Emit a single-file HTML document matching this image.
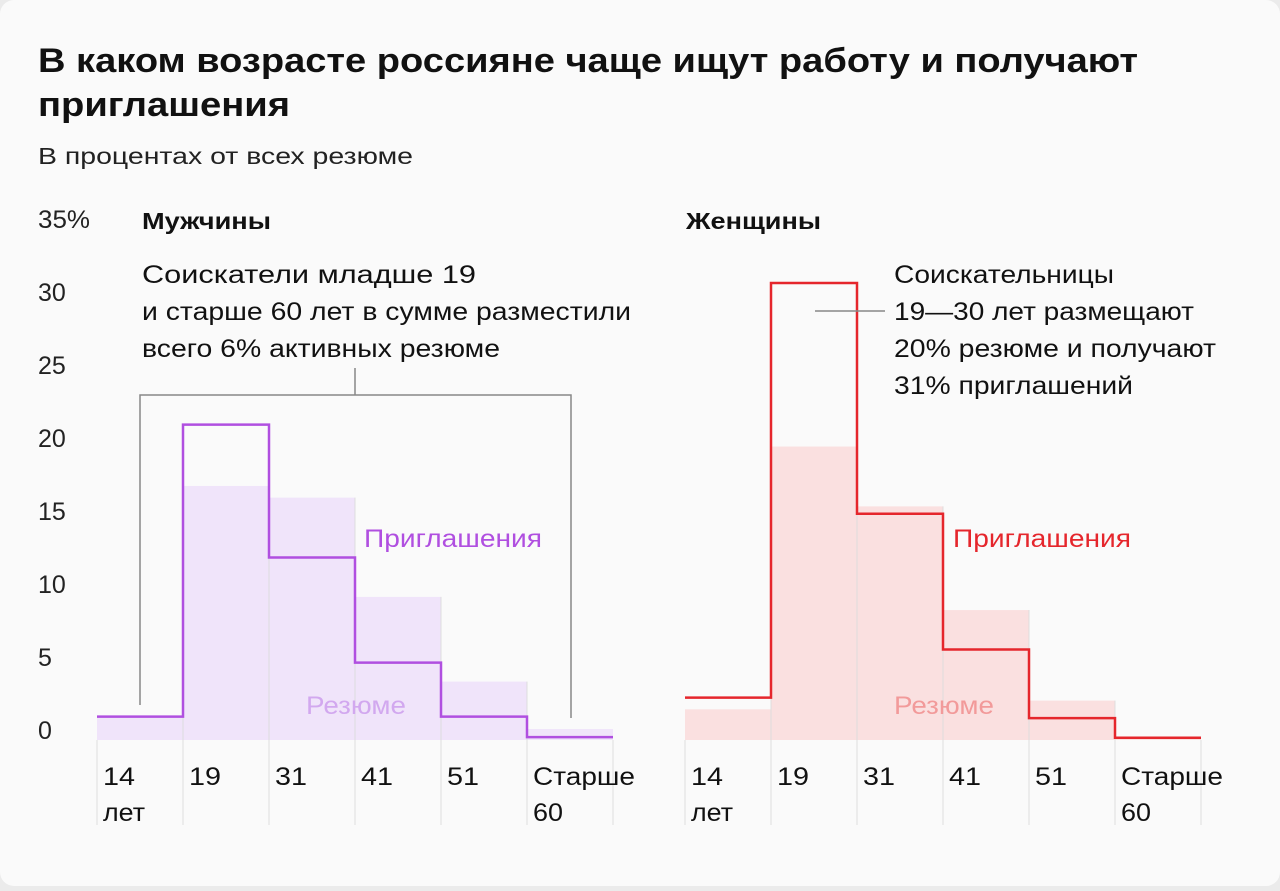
<!DOCTYPE html>
<html><head><meta charset="utf-8"><style>
body{margin:0;background:#ebebeb;font-family:"Liberation Sans",sans-serif;}
#card{position:absolute;left:0;top:0;width:1280px;height:886px;background:#fafafa;border-radius:14px;}
</style></head><body>
<div id="card">
<svg id="svg" width="1280" height="886" xmlns="http://www.w3.org/2000/svg" font-family="Liberation Sans, sans-serif">
<text x="38" y="72" font-size="34" font-weight="bold" fill="#111" textLength="1100" lengthAdjust="spacingAndGlyphs">В каком возрасте россияне чаще ищут работу и получают</text>
<text x="38" y="116" font-size="34" font-weight="bold" fill="#111" textLength="252" lengthAdjust="spacingAndGlyphs">приглашения</text>
<text x="38" y="164" font-size="23" fill="#222" textLength="375" lengthAdjust="spacingAndGlyphs">В процентах от всех резюме</text>
<g id="yaxis"></g>
<g id="men"></g>
<g id="women"></g>
</svg></div>
<script>
const categories=["14\nлет","19","31","41","51","Старше\n60"];
const yTicks=[0,5,10,15,20,25,30,35];
const menResume=[1.6,17.4,16.6,9.8,4.0,0.75];
const menInvites=[1.6,21.6,12.5,5.3,1.6,0.2];
const womenResume=[2.1,20.1,16.0,8.9,2.7,0.2];
const womenInvites=[2.9,31.3,15.5,6.2,1.5,0.15];
const NS="http://www.w3.org/2000/svg";
const y0=740,k=14.6,bw=86;
const Y=v=>y0-v*k;
function mk(p,t,a){const e=document.createElementNS(NS,t);for(const q in a)e.setAttribute(q,a[q]);p.appendChild(e);return e;}
const ya=document.getElementById('yaxis');
yTicks.forEach(t=>{const e=mk(ya,'text',{x:38,y:Y(t)-1,'font-size':25,fill:'#222'});e.textContent=t===35?'35%':t;
if(t===35){e.setAttribute('textLength','52');e.setAttribute('lengthAdjust','spacingAndGlyphs');}

});
function txt(g,x,y,s,c,n,len,sz,bold){const a={x:x,y:y,'font-size':sz||25,fill:c};if(len){a.textLength=len;a.lengthAdjust='spacingAndGlyphs';}if(bold)a['font-weight']='bold';const e=mk(g,'text',a);e.textContent=s;}
const tickLens={"лет":42,"Старше":102,"60":30};
function panel(g,x0,res,inv,col,fill,title){
 txt(g,title[1],229,title[0],'#111','panel-title',title[2],23,true);
 res.forEach((v,i)=>{const r=mk(g,'rect',{x:x0+i*bw,y:Y(v),width:bw,height:v*k,fill:fill});
  
  });
 for(let i=0;i<=6;i++){const l=mk(g,'line',{x1:x0+i*bw,x2:x0+i*bw,y1:i==0||i==6?y0:Y(Math.max(res[i-1]||0,res[i]||0)),y2:y0+85,stroke:'#ddd','stroke-width':1});
  
  }
 categories.forEach((c,i)=>{c.split('\n').forEach((s,j)=>{txt(g,x0+i*bw+6,785+j*36,s,'#111','x-tick-label',tickLens[s]||(s.length*16),25);});});
 let d='';inv.forEach((v,i)=>{d+=(i?'L':'M')+(x0+i*bw)+','+Y(v)+'L'+(x0+(i+1)*bw)+','+Y(v);});
 const p=mk(g,'path',{d:d,fill:'none',stroke:col,'stroke-width':2.5});
 
 
}
const men=document.getElementById('men'),women=document.getElementById('women');
panel(men,97,menResume,menInvites,'#b04fe0','#f0e4fa',['Мужчины',142,129]);
panel(women,685,womenResume,womenInvites,'#e5262c','#fae0e0',['Женщины',686,135]);
txt(men,364,547,'Приглашения','#b04fe0','invitations-label',178);
txt(men,306,714,'Резюме','#d2a8ef','resume-label',100);
txt(women,953,547,'Приглашения','#e5262c','invitations-label',178);
txt(women,894,714,'Резюме','#f29a9a','resume-label',100);
const ma=[['Соискатели младше 19',334],['и старше 60 лет в сумме разместили',489],['всего 6% активных резюме',358]];
ma.forEach((s,i)=>txt(men,142,283+i*37,s[0],'#111','men-annotation',s[1]));
const wa=[['Соискательницы',220],['19—30 лет размещают',300],['20% резюме и получают',322],['31% приглашений',239]];
wa.forEach((s,i)=>txt(women,894,283+i*37,s[0],'#111','women-annotation',s[1]));
const br=mk(men,'path',{d:'M140,705V395H571V718M355,395V368',fill:'none',stroke:'#888','stroke-width':1.5});


const al=mk(women,'line',{x1:815,x2:885,y1:311,y2:311,stroke:'#888','stroke-width':1.5});


</script>
</body></html>
